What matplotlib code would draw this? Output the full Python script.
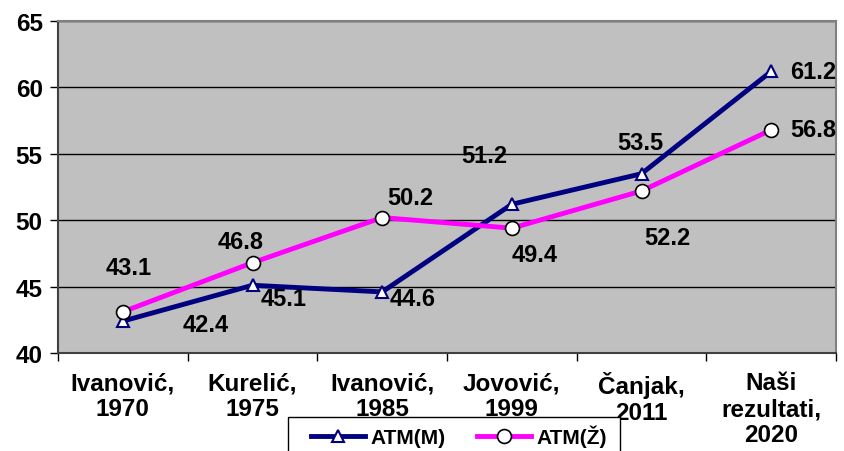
import matplotlib
matplotlib.use("Agg")
from matplotlib import pyplot as plt
from matplotlib.patches import Rectangle

plt.rcParams['font.family'] = ['Liberation Sans', 'DejaVu Sans']
plt.rcParams['font.weight'] = 'bold'

categories = ["Ivanović,\n1970", "Kurelić,\n1975", "Ivanović,\n1985",
              "Jovović,\n1999", "Čanjak,\n2011", "Naši\nrezultati,\n2020"]
atm_m = [42.4, 45.1, 44.6, 51.2, 53.5, 61.2]
atm_z = [43.1, 46.8, 50.2, 49.4, 52.2, 56.8]
y_ticks = [40, 45, 50, 55, 60, 65]

# label offsets in pixels (text centre relative to marker)
off_m = [(83, -3), (31, -13), (30, -7), (-28, 49), (-1, 31), (42, 0)]
off_z = [(6, 44), (-12, 21), (28, 20), (23, -26), (26, -47), (42, 0)]

fig = plt.figure(figsize=(8.44, 4.52), dpi=100)
ax = fig.add_axes([58 / 844, 1 - 354 / 452, 778 / 844, 332 / 452])
ax.set_facecolor('#C0C0C0')

x = list(range(len(categories)))
ax.plot(x, atm_m, color='#000080', lw=3.5, marker='^', ms=9,
        mfc='white', mec='#000080', mew=1.5, label='ATM(M)', zorder=3)
ax.plot(x, atm_z, color='#FF00FF', lw=3.5, marker='o', ms=10,
        mfc='white', mec='black', mew=1.2, label='ATM(Ž)', zorder=4)

for xi, v, o in zip(x, atm_m, off_m):
    ax.annotate(f"{v:.1f}", (xi, v), xytext=o, textcoords='offset pixels',
                ha='center', va='center', fontsize=17, fontweight='bold')
for xi, v, o in zip(x, atm_z, off_z):
    ax.annotate(f"{v:.1f}", (xi, v), xytext=o, textcoords='offset pixels',
                ha='center', va='center', fontsize=17, fontweight='bold')

ax.set_xlim(-0.5, len(categories) - 0.5)
ax.set_ylim(40, 65)
ax.set_yticks(y_ticks)
ax.yaxis.grid(True, color='black', lw=1)
ax.set_axisbelow(True)
ax.tick_params(axis='y', labelsize=17.5, length=6, width=1, pad=5, direction='out')

ax.set_xticks([i - 0.5 for i in x] + [len(x) - 0.5])
ax.set_xticklabels([])
ax.set_xticks(x, minor=True)
ax.set_xticklabels(categories, minor=True, fontsize=17.5, linespacing=1.17)
ax.tick_params(axis='x', which='major', length=6, width=1, direction='out')
ax.tick_params(axis='x', which='minor', length=0, pad=13)

for s in ['top', 'right']:
    ax.spines[s].set_color('#808080')
    ax.spines[s].set_linewidth(1.5)
ax.spines['left'].set_color('#404040')
ax.spines['left'].set_linewidth(1.5)
ax.spines['bottom'].set_color('#404040')
ax.spines['bottom'].set_linewidth(1.5)

# legend box (extends below the figure edge like the original)
fig.patches.append(Rectangle((288 / 844, -0.05), (620 - 288) / 844,
                             0.05 + 1 - 418 / 452, transform=fig.transFigure,
                             facecolor='white', edgecolor='black', lw=1,
                             zorder=5))
leg = fig.legend(loc='center left', bbox_to_anchor=(305 / 844, 1 - 437 / 452),
                 ncol=2, fontsize=15, frameon=False, handlelength=2.6,
                 handletextpad=0.25, columnspacing=1.5, borderaxespad=0,
                 borderpad=0.3)
leg.set_zorder(6)

fig.savefig('out.png', dpi=100)
